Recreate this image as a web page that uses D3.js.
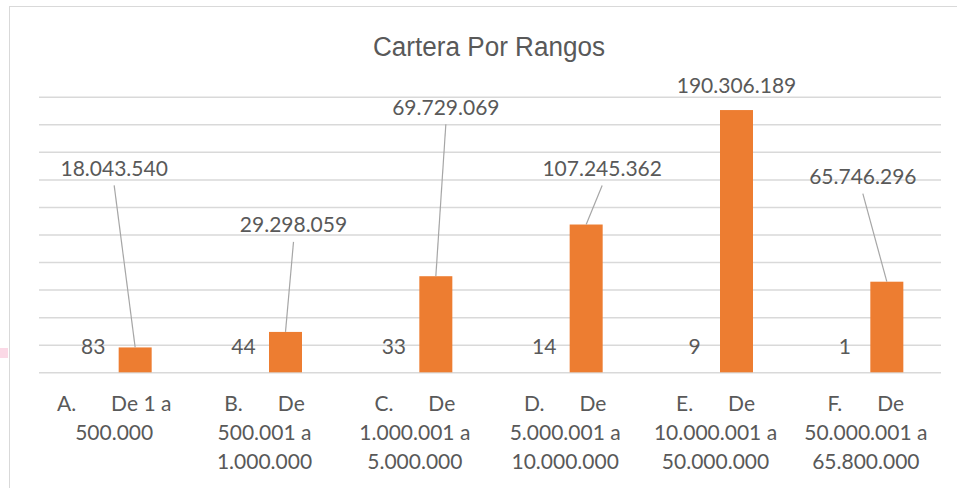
<!DOCTYPE html>
<html>
<head>
<meta charset="utf-8">
<script src="https://cdn.jsdelivr.net/npm/d3@7"></script>
<style>
  body { margin: 0; background: #fff; }
  svg { display: block; }
  text { font-family: Lato, "Open Sans", sans-serif; fill: #595959; }
</style>
</head>
<body>
<svg id="chart" width="957" height="488"></svg>
<script>
// categories (letter + wrapped range text)
var catLetters = ["A.", "B.", "C.", "D.", "E.", "F."];
var catLines = [
    ["De 1 a", "500.000"],
    ["De", "500.001 a", "1.000.000"],
    ["De", "1.000.001 a", "5.000.000"],
    ["De", "5.000.001 a", "10.000.000"],
    ["De", "10.000.001 a", "50.000.000"],
    ["De", "50.000.001 a", "65.800.000"]
];
// number of clients per range
var counts = [83, 44, 33, 14, 9, 1];
// portfolio amount per range
var amounts = [18043540, 29298059, 69729069, 107245362, 190306189, 65746296];
var yTicks = [0, 20e6, 40e6, 60e6, 80e6, 100e6, 120e6, 140e6, 160e6, 180e6, 200e6];

// where the dragged data labels sit, relative to the bar top
var labelShift = [[-21, -179], [8, -107], [10, -169], [16, -56], [0, -25], [-24, -105]];

var svg = d3.select("#chart");
var plotL = 39, plotR = 941, plotT = 96.7, plotB = 372.3;

var fmt = function(v) { return d3.format(",")(v).replace(/,/g, "."); };

// chart frame
svg.append("rect")
    .attr("x", 9.5).attr("y", 6.5)
    .attr("width", 960).attr("height", 500)
    .attr("fill", "none").attr("stroke", "#d9d9d9");
svg.append("rect")
    .attr("x", 0).attr("y", 348).attr("width", 8).attr("height", 10)
    .attr("fill", "#fbd9e6");

var x = d3.scaleBand().domain(d3.range(6)).range([plotL, plotR]);
var y = d3.scaleLinear().domain([0, 200e6]).range([plotB, plotT]);
// two series per category: counts (left) and amounts (right)
var x1 = d3.scaleBand().domain(["count", "amount"]).range([-37.5, 37.5]).paddingInner(9 / 42);

// gridlines
svg.append("g")
    .attr("transform", "translate(" + plotL + ",0)")
    .call(d3.axisLeft(y).tickValues(yTicks).tickSize(-(plotR - plotL)).tickFormat(""))
    .call(function(g) {
        g.select(".domain").remove();
        g.selectAll(".tick line").attr("stroke", "#d9d9d9").attr("stroke-width", 1.5);
    });

// title
svg.append("text")
    .attr("x", 489).attr("y", 56)
    .attr("text-anchor", "middle")
    .style("font-family", "'Liberation Sans Narrow', 'Liberation Sans', Arial, sans-serif")
    .style("font-size", "27px")
    .attr("textLength", 232).attr("lengthAdjust", "spacingAndGlyphs")
    .text("Cartera Por Rangos");

var cx = function(i) { return x(i) + x.bandwidth() / 2; };

// bars (amounts)
svg.append("g").selectAll("rect")
    .data(amounts)
    .enter().append("rect")
    .attr("x", function(d, i) { return cx(i) + x1("amount"); })
    .attr("y", function(d) { return y(d); })
    .attr("width", x1.bandwidth())
    .attr("height", function(d) { return y(0) - y(d); })
    .attr("fill", "#ed7d31");

// count series (too small to show as bars, only labels)
svg.append("g").selectAll("text")
    .data(counts)
    .enter().append("text")
    .attr("x", function(d, i) { return cx(i) + x1("count") + x1.bandwidth() / 2; })
    .attr("y", function(d) { return y(d) - 18; })
    .attr("text-anchor", "middle")
    .style("font-size", "21px")
    .text(function(d) { return d; });

// leader lines + amount labels
var lab = svg.append("g");
amounts.forEach(function(d, i) {
    var bx = cx(i) + x1("amount") + x1.bandwidth() / 2;
    var by = y(d);
    var lx = bx + labelShift[i][0], ly = by + labelShift[i][1];
    if (Math.abs(labelShift[i][1]) > 40) {
        lab.append("line")
            .attr("x1", lx).attr("y1", ly + 17)
            .attr("x2", bx).attr("y2", by)
            .attr("stroke", "#a6a6a6").attr("stroke-width", 1.2);
    }
    lab.append("text")
        .attr("x", lx).attr("y", ly + 7.5)
        .attr("text-anchor", "middle")
        .style("font-size", "21px")
        .text(fmt(d));
});

// category labels
var cat = svg.append("g").selectAll("g")
    .data(catLetters)
    .enter().append("g")
    .attr("transform", function(d, i) { return "translate(" + cx(i) + ",0)"; });

cat.each(function(letter, i) {
    var g = d3.select(this);
    var first = g.append("text")
        .attr("x", 0).attr("y", 411)
        .attr("text-anchor", "middle")
        .style("font-size", "21px");
    first.append("tspan").text(letter);
    first.append("tspan").attr("dx", 35).text(catLines[i][0]);
    catLines[i].slice(1).forEach(function(line, j) {
        g.append("text")
            .attr("x", 0).attr("y", 440 + j * 28.5)
            .attr("text-anchor", "middle")
            .style("font-size", "21px")
            .text(line);
    });
});
</script>
</body>
</html>
